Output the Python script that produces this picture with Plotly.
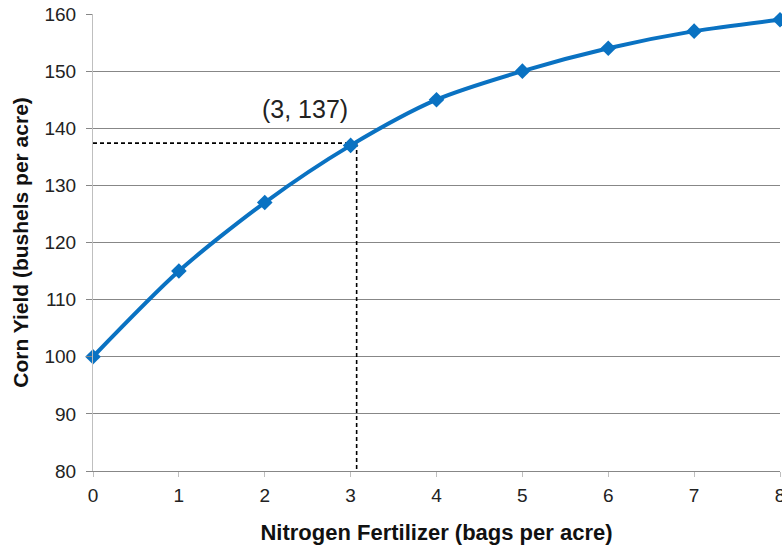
import plotly.graph_objects as go

# Data
fertilizer = [0, 1, 2, 3, 4, 5, 6, 7, 8]
corn_yield = [100, 115, 127, 137, 145, 150, 154, 157, 159]

# Guide lines (as drawn in the reference)
guide_x = 3.07
guide_y = 137.4
label_text = "(3, 137)"
label_x = 2.47
label_y = 143.4

x_title = "Nitrogen Fertilizer (bags per acre)"
y_title = "Corn Yield (bushels per acre)"

FONT = "Liberation Sans, Arial, sans-serif"
BLUE = "#0A72C2"
GRID = "#878787"
LIGHT = "#BFBFBF"

fig = go.Figure()

# dashed guides
fig.add_trace(go.Scatter(
    x=[0, guide_x], y=[guide_y, guide_y], mode="lines",
    line=dict(color="black", width=1.6, dash="4px,3px"),
    hoverinfo="skip", showlegend=False, cliponaxis=False))
fig.add_trace(go.Scatter(
    x=[guide_x, guide_x], y=[guide_y, 80], mode="lines",
    line=dict(color="black", width=1.6, dash="4px,3px"),
    hoverinfo="skip", showlegend=False, cliponaxis=False))

# main curve
fig.add_trace(go.Scatter(
    x=fertilizer, y=corn_yield, mode="lines+markers",
    line=dict(color=BLUE, width=4, shape="spline", smoothing=0.8),
    marker=dict(symbol="diamond", size=12, color=BLUE),
    showlegend=False, cliponaxis=False))

fig.add_annotation(x=label_x, y=label_y, text=label_text, showarrow=False,
                   font=dict(family=FONT, size=25, color="#222222"))

fig.update_layout(
    width=782, height=550,
    margin=dict(l=93, r=2, t=14, b=79),
    paper_bgcolor="white", plot_bgcolor="white",
    font=dict(family=FONT, color="#222222"),
    xaxis=dict(
        range=[0, 8], tickmode="array", tickvals=fertilizer,
        automargin=False, ticklabeloverflow="allow",
        showgrid=False, zeroline=False,
        showline=True, linecolor=GRID, linewidth=1,
        ticks="outside", ticklen=5, tickcolor=LIGHT, tickwidth=1,
        tickfont=dict(family=FONT, size=19, color="#222222"),
        ticklabelstandoff=2,
        title=dict(text="<b>" + x_title + "</b>",
                   font=dict(family=FONT, size=22, color="#111111"),
                   standoff=19),
    ),
    yaxis=dict(
        range=[80, 160], dtick=10, tick0=80,
        automargin=False,
        showgrid=True, gridcolor=GRID, gridwidth=1, zeroline=False,
        showline=True, linecolor=LIGHT, linewidth=1,
        ticks="outside", ticklen=6, tickcolor=GRID, tickwidth=1,
        tickfont=dict(family=FONT, size=19, color="#222222"),
        ticklabelstandoff=6,
        title=dict(text="<b>" + y_title + "</b>",
                   font=dict(family=FONT, size=21, color="#111111"),
                   standoff=10),
    ),
)

fig.write_html("out.html",
               config={"displayModeBar": False},
               post_script="document.body.style.margin='0';document.body.style.overflow='hidden';")
